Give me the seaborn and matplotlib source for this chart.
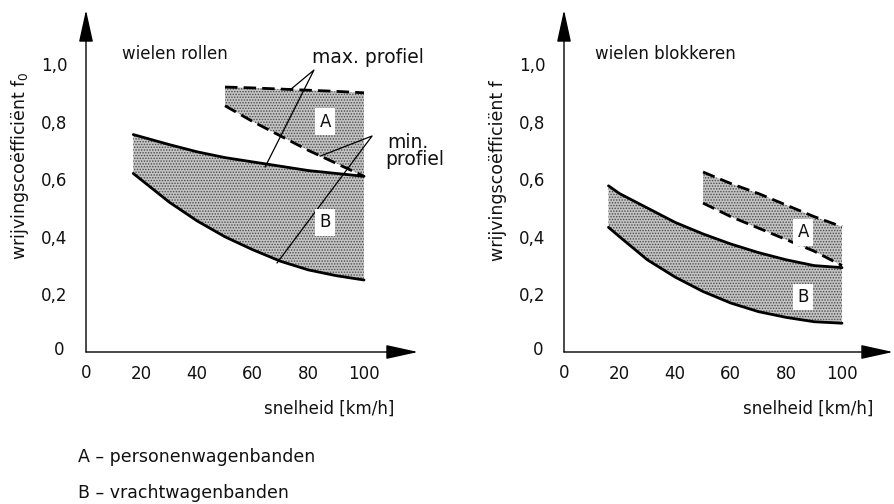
import numpy as np
import pandas as pd
import matplotlib
matplotlib.use("Agg")
import matplotlib.pyplot as plt
import seaborn as sns

# ---------------- data ----------------
speed_B_left = [17, 30, 40, 50, 60, 70, 80, 90, 100]
B_upper_left = [0.755, 0.72, 0.695, 0.675, 0.66, 0.645, 0.63, 0.62, 0.61]
B_lower_left = [0.62, 0.52, 0.455, 0.40, 0.355, 0.315, 0.285, 0.265, 0.25]

speed_A = [50, 60, 70, 80, 90, 100]
A_upper_left = [0.92, 0.917, 0.913, 0.909, 0.905, 0.90]
A_lower_left = [0.855, 0.80, 0.75, 0.70, 0.655, 0.61]

speed_B_right = [16, 20, 30, 40, 50, 60, 70, 80, 90, 100]
B_upper_right = [0.577, 0.55, 0.50, 0.45, 0.41, 0.375, 0.345, 0.32, 0.30, 0.293]
B_lower_right = [0.433, 0.40, 0.32, 0.26, 0.21, 0.17, 0.14, 0.12, 0.105, 0.10]

A_upper_right = [0.625, 0.585, 0.55, 0.51, 0.47, 0.435]
A_lower_right = [0.517, 0.47, 0.43, 0.39, 0.35, 0.30]

x_ticks = [0, 20, 40, 60, 80, 100]
x_ticklabels = ["0", "20", "40", "60", "80", "100"]
y_ticks = [0, 0.2, 0.4, 0.6, 0.8, 1.0]
y_ticklabels = ["0", "0,2", "0,4", "0,6", "0,8", "1,0"]

titles = ["wielen rollen", "wielen blokkeren"]
ylabels = ["wrijvingscoëfficiënt f$_0$", "wrijvingscoëfficiënt f"]
xlabel = "snelheid [km/h]"
legend_lines = ["A – personenwagenbanden", "B – vrachtwagenbanden"]

# ---------------- style ----------------
sns.set_style("white")
plt.rcParams["font.family"] = ["DejaVu Sans"]
plt.rcParams["mathtext.fontset"] = "dejavusans"
plt.rcParams["hatch.linewidth"] = 0.7
plt.rcParams["hatch.color"] = "#4a4a4a"

W, H = 895, 504
fig = plt.figure(figsize=(W / 100, H / 100), dpi=100)

FILL = "#c4c4c4"
HATCH = "......"
TXT = "#111111"


def make_axes(x0_px, right_px):
    y_bottom_px, y_top_px = 352, 10
    ax = fig.add_axes([x0_px / W, (H - y_bottom_px) / H,
                       (right_px - x0_px) / W, (y_bottom_px - y_top_px) / H])
    ax.set_xlim(0, (right_px - x0_px) / 2.78)
    ax.set_ylim(0, (y_bottom_px - y_top_px) / 288)
    for s in ax.spines.values():
        s.set_visible(False)
    ax.patch.set_alpha(0)
    arrow = dict(arrowstyle="-|>,head_length=1.0,head_width=0.22",
                 color="black", lw=1.0, shrinkA=0, shrinkB=0,
                 mutation_scale=20)
    ax.annotate("", xy=(1, 0), xytext=(0, 0), xycoords="axes fraction",
                arrowprops=arrow, annotation_clip=False)
    ax.annotate("", xy=(0, 1), xytext=(0, 0), xycoords="axes fraction",
                arrowprops=arrow, annotation_clip=False)
    ax.set_xticks(x_ticks[1:])
    ax.set_xticklabels(x_ticklabels[1:])
    ax.set_yticks(y_ticks[1:])
    ax.set_yticklabels(y_ticklabels[1:])
    ax.tick_params(axis="both", direction="inout", length=9, width=1,
                   labelsize=12, colors="black", labelcolor=TXT)
    ax.tick_params(axis="y", pad=9)
    ax.tick_params(axis="x", pad=5)
    ax.text(0, -0.06, x_ticklabels[0], ha="center", va="center",
            fontsize=12, color=TXT, transform=ax.get_xaxis_transform(),
            clip_on=False)
    ax.text(-0.08, 0.005, y_ticklabels[0], ha="center", va="center",
            fontsize=12, color=TXT, transform=ax.transAxes, clip_on=False)
    ax.set_xlabel("")
    ax.set_ylabel("")
    return ax


def draw_band(ax, xs, up, lo, dashed):
    ax.fill_between(xs, lo, up, facecolor=FILL, hatch=HATCH,
                    edgecolor="#4a4a4a", linewidth=0, zorder=1)
    for ys in (up, lo):
        n_before = len(ax.lines)
        sns.lineplot(x=xs, y=ys, ax=ax, color="black", lw=2.0,
                     zorder=3, sort=False)
        line = ax.lines[n_before]
        if dashed:
            line.set_linestyle((0, (4.5, 2.2)))
            line.set_dash_capstyle("butt")


def boxed(ax, x, y, s):
    ax.text(x, y, s, ha="center", va="center", fontsize=12, color=TXT,
            zorder=5,
            bbox=dict(boxstyle="square,pad=0.25", fc="white", ec="none"))


# ---------------- left panel ----------------
axL = make_axes(86, 418)
draw_band(axL, speed_B_left, B_upper_left, B_lower_left, dashed=False)
draw_band(axL, speed_A, A_upper_left, A_lower_left, dashed=True)
boxed(axL, 86, 0.80, "A")
boxed(axL, 86, 0.45, "B")
axL.text(13, 1.035, titles[0], fontsize=12, color=TXT, ha="left", va="center")
axL.text(-0.2, 0.545, ylabels[0], rotation=90, fontsize=12.5, color=TXT,
         ha="center", va="center", transform=axL.transAxes)
axL.text(1.0 - 0.07, -0.165, xlabel, fontsize=12, color=TXT, ha="right",
         va="center", transform=axL.transAxes)
# leader lines
axL.plot([73.4, 82, 64.4], [0.91, 0.979, 0.642], color="black", lw=0.9,
         zorder=4, clip_on=False)
axL.plot([84.2, 102.9, 68.7], [0.68, 0.75, 0.309], color="black", lw=0.9,
         zorder=4, clip_on=False)
axL.text(81.3, 1.024, "max. profiel", fontsize=13.5, color=TXT, ha="left",
         va="center")
axL.text(108.3, 0.729, "min.", fontsize=13.5, color=TXT, ha="left", va="center")
axL.text(107.6, 0.667, "profiel", fontsize=13.5, color=TXT, ha="left",
         va="center")

# ---------------- right panel ----------------
axR = make_axes(564, 893)
draw_band(axR, speed_B_right, B_upper_right, B_lower_right, dashed=False)
draw_band(axR, speed_A, A_upper_right, A_lower_right, dashed=True)
boxed(axR, 86, 0.415, "A")
boxed(axR, 86, 0.19, "B")
axR.text(11, 1.035, titles[1], fontsize=12, color=TXT, ha="left", va="center")
axR.text(-0.2, 0.53, ylabels[1], rotation=90, fontsize=12.5, color=TXT,
         ha="center", va="center", transform=axR.transAxes)
axR.text(1.0 - 0.06, -0.165, xlabel, fontsize=12, color=TXT, ha="right",
         va="center", transform=axR.transAxes)

# ---------------- footnote legend ----------------
fig.text(78 / W, 1 - 457 / H, legend_lines[0], fontsize=12.5, color=TXT,
         ha="left", va="center")
fig.text(78 / W, 1 - 493 / H, legend_lines[1], fontsize=12.5, color=TXT,
         ha="left", va="center")

fig.savefig("out.png", dpi=100)
